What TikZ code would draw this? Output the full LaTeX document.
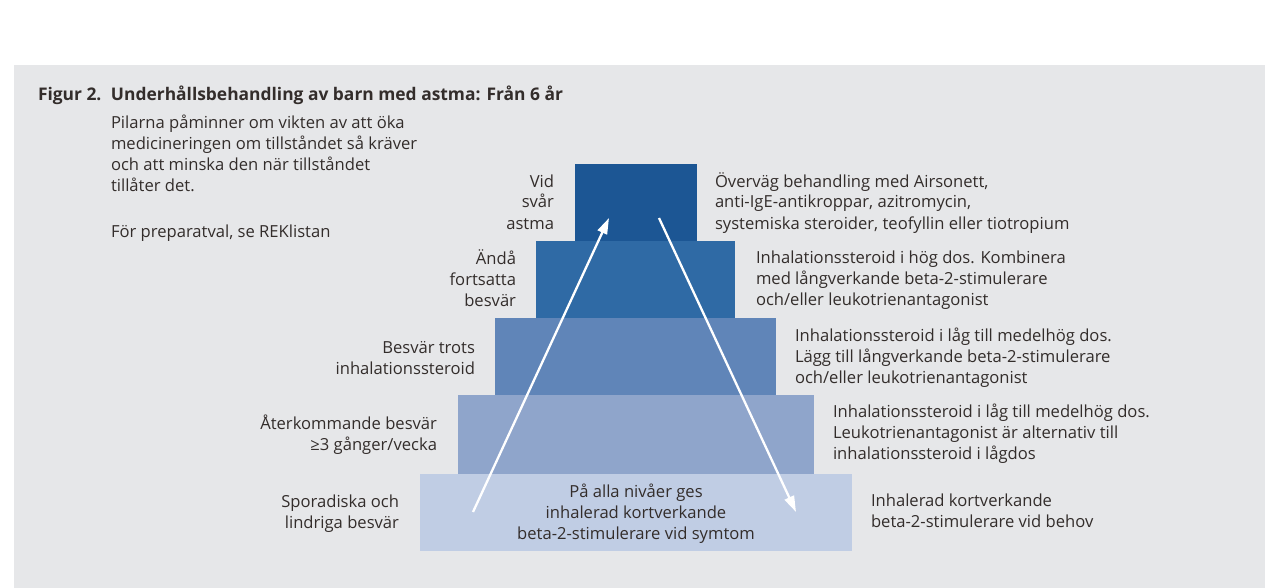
\documentclass[tikz,border=0pt]{standalone}
\usepackage{fontspec}
\setmainfont{Open Sans}
\usetikzlibrary{arrows.meta}
\definecolor{panelGrey}{RGB}{230,231,233}
\definecolor{stepOne}{RGB}{28,86,148}
\definecolor{stepTwo}{RGB}{47,106,165}
\definecolor{stepThree}{RGB}{96,133,184}
\definecolor{stepFour}{RGB}{143,165,203}
\definecolor{stepFive}{RGB}{192,205,228}
\definecolor{inkDark}{RGB}{51,45,43}
\begin{document}
\begin{tikzpicture}[x=1pt,y=-1pt,
  txt/.style={inner sep=0pt,outer sep=0pt,text=inkDark,font=\fontsize{16.6}{21}\selectfont},
  lbl/.style={txt,anchor=base east,align=right},
  note/.style={txt,anchor=base west,align=left},
  stepbox/.style={inner sep=0pt,outer sep=0pt,draw=none,anchor=north west},
  pil/.style={draw=white,line width=2.3pt,-{Triangle[length=16pt,width=10pt]}}]
\path[use as bounding box,fill=white] (0,0) rectangle (1265,588);
\path[fill=panelGrey] (14,65) rectangle (1265,588);
% title and remark (multi-line nodes sit on their last baseline)
\node[note,font=\fontsize{17.4}{21}\selectfont\bfseries] (title) at (38,101) {\makebox[73pt][l]{Figur 2.}Underhållsbehandling av barn med astma: Från 6 år};
\node[note] (remark) at (111,192) {Pilarna påminner om vikten av att öka\\medicineringen om tillståndet så kräver\\och att minska den när tillståndet\\tillåter det.};
\node[note] (ref) at (111,237) {För preparatval, se REKlistan};
% steps of the pyramid
\node[stepbox,fill=stepOne,minimum width=122pt,minimum height=77pt] (s1) at (575,164) {};
\node[stepbox,fill=stepTwo,minimum width=199pt,minimum height=77pt] (s2) at (536,241) {};
\node[stepbox,fill=stepThree,minimum width=281pt,minimum height=77pt] (s3) at (495,318) {};
\node[stepbox,fill=stepFour,minimum width=356pt,minimum height=79pt] (s4) at (458,395) {};
\node[stepbox,fill=stepFive,minimum width=432pt,minimum height=77pt] (s5) at (420,474) {};
\node[txt,anchor=base,align=center] (base) at (636,539) {På alla nivåer ges\\inhalerad kortverkande\\beta-2-stimulerare vid symtom};
% symptoms
\node[lbl] (q1) at (554,229) {Vid\\svår\\astma};
\node[lbl] (q2) at (516,306) {Ändå\\fortsatta\\besvär};
\node[lbl] (q3) at (475,374) {Besvär trots\\inhalationssteroid};
\node[lbl] (q4) at (437,450) {Återkommande besvär\\≥3 gånger/vecka};
\node[lbl] (q5) at (399,528) {Sporadiska och\\lindriga besvär};
% treatment
\node[note] (t1) at (715,229) {Överväg behandling med Airsonett,\\anti-IgE-antikroppar, azitromycin,\\systemiska steroider, teofyllin eller tiotropium};
\node[note] (t2) at (756,305) {Inhalationssteroid i hög dos. Kombinera\\med långverkande beta-2-stimulerare\\och/eller leukotrienantagonist};
\node[note] (t3) at (795,383) {Inhalationssteroid i låg till medelhög dos.\\Lägg till långverkande beta-2-stimulerare\\och/eller leukotrienantagonist};
\node[note] (t4) at (833,459) {Inhalationssteroid i låg till medelhög dos.\\Leukotrienantagonist är alternativ till\\inhalationssteroid i lågdos};
\node[note] (t5) at (871,527) {Inhalerad kortverkande\\beta-2-stimulerare vid behov};
% step up / step down
\coordinate (upFrom) at (473,512);
\coordinate (upTo) at (609,218);
\coordinate (downFrom) at (659,218);
\coordinate (downTo) at (796,512);
\draw[pil] (upFrom) -- (upTo);
\draw[pil] (downFrom) -- (downTo);
\end{tikzpicture}
\end{document}
